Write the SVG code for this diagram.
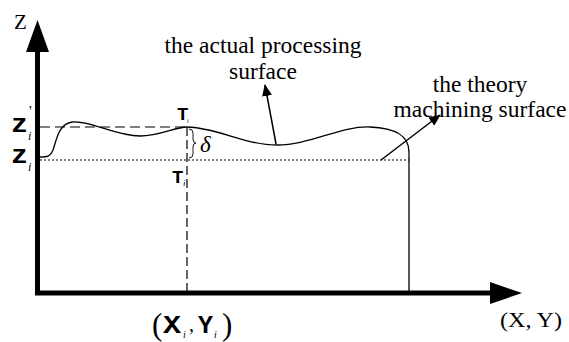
<svg xmlns="http://www.w3.org/2000/svg" width="569" height="342" viewBox="0 0 569 342">
<style>
.serif{font-family:"Liberation Serif","Times New Roman",serif;fill:#000}
.mono{font-family:"Liberation Mono","Courier New",monospace;font-weight:bold;fill:#000}
.sub{font-family:"Liberation Serif","Times New Roman",serif;font-style:italic;fill:#000}
.lbl{font-family:"Liberation Serif","Times New Roman",serif;font-size:23.5px;text-anchor:middle;fill:#000}
.thin{fill:none;stroke:#000;stroke-width:1.3}
</style>
<defs>
<marker id="ah" viewBox="0 0 12 10" refX="11" refY="5" markerWidth="12" markerHeight="10" markerUnits="userSpaceOnUse" orient="auto">
<path d="M0,0 L12,5 L0,10 Z" fill="#000"/>
</marker>
</defs>
<rect width="569" height="342" fill="#fff"/>
<g id="axes">
<line x1="37.5" y1="295" x2="37.5" y2="50" stroke="#000" stroke-width="5"/>
<polygon points="37.5,20 26,52 49,52" fill="#000"/>
<line x1="35" y1="293" x2="492" y2="293" stroke="#000" stroke-width="5"/>
<polygon points="522,293 490,282 490,304" fill="#000"/>
<text class="serif" x="14" y="29" font-size="21">Z</text>
<text class="serif" x="500" y="327" font-size="21" textLength="62" lengthAdjust="spacingAndGlyphs">(X, Y)</text>
</g>
<g id="surface-actual">
<path class="thin" d="M40,157 C47,157 50,157 53,150 C57,138 59,124 72,122 C90,120 115,136 140,136 C160,136 175,127 187,127 C215,127 245,145 277,145 C310,145 340,126 370,127 C395,128 409,135 409,152 L409,292"/>
</g>
<g id="reference-lines">
<line x1="40" y1="127" x2="187" y2="127" stroke="#000" stroke-width="1.2" stroke-dasharray="10 5"/>
<line x1="40" y1="160" x2="409" y2="160" stroke="#000" stroke-width="1.2" stroke-dasharray="2 2"/>
<line x1="187" y1="127" x2="187" y2="292" stroke="#000" stroke-width="1.2" stroke-dasharray="9 4"/>
<path d="M189,129 Q193,129 193,133 L193,139 Q193,143 196,143 Q193,143 193,147 L193,154 Q193,158 189,158" fill="none" stroke="#000" stroke-width="0.9"/>
</g>
<g id="labels">
<text class="mono" x="11" y="132" font-size="25" textLength="17" lengthAdjust="spacingAndGlyphs">z</text>
<text class="serif" x="29" y="116" font-size="15">'</text>
<text class="sub" x="28" y="140" font-size="12">i</text>
<text class="mono" x="11" y="163" font-size="25" textLength="17" lengthAdjust="spacingAndGlyphs">z</text>
<text class="sub" x="28" y="171" font-size="12">i</text>
<text class="mono" x="177" y="120" font-size="19">T</text>
<text class="sub" x="187" y="123" font-size="6">i</text>
<text class="mono" x="172" y="183" font-size="19">T</text>
<text class="sub" x="183" y="186" font-size="9">i</text>
<text class="serif" x="200" y="152" font-size="23" font-style="italic">δ</text>
<text class="serif" x="152" y="335" font-size="31">(</text>
<text class="mono" x="163" y="333" font-size="25" textLength="18" lengthAdjust="spacingAndGlyphs">X</text>
<text class="sub" x="183" y="338" font-size="10">i</text>
<text class="serif" x="189" y="331" font-size="20">,</text>
<text class="mono" x="198" y="333" font-size="25" textLength="15" lengthAdjust="spacingAndGlyphs">Y</text>
<text class="sub" x="214" y="338" font-size="10">i</text>
<text class="serif" x="222" y="335" font-size="31">)</text>
</g>
<g id="label-actual">
<text class="lbl" x="263" y="53">the actual processing</text>
<text class="lbl" x="263" y="79">surface</text>
</g>
<g id="label-theory">
<text class="lbl" x="480" y="92">the theory</text>
<text class="lbl" x="480" y="117">machining surface</text>
</g>
<g id="connectors">
<line x1="276" y1="144" x2="265" y2="85" stroke="#000" stroke-width="1.5" marker-end="url(#ah)"/>
<line x1="381" y1="160" x2="440" y2="115" stroke="#000" stroke-width="1.5" marker-end="url(#ah)"/>
</g>
</svg>
